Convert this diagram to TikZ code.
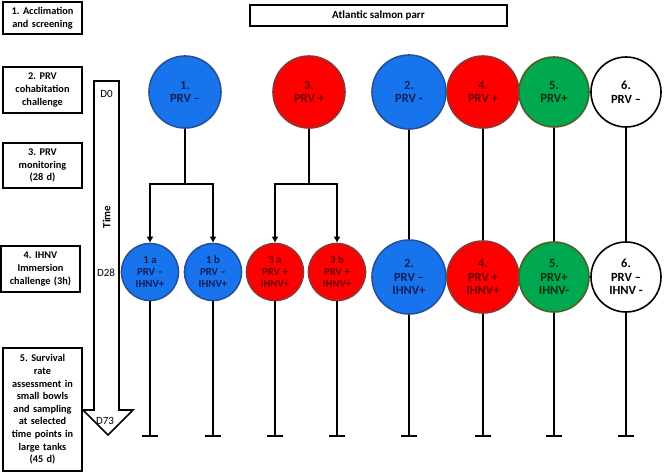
\documentclass[tikz,border=0pt]{standalone}
\usepackage{fontspec}
\setmainfont{Carlito}
\usetikzlibrary{arrows.meta}
\definecolor{pblue}{RGB}{24,116,236}
\definecolor{pblueline}{RGB}{40,80,150}
\definecolor{pbluetext}{RGB}{18,30,90}
\definecolor{pred}{RGB}{255,0,0}
\definecolor{predline}{RGB}{140,55,50}
\definecolor{predtext}{RGB}{105,0,0}
\definecolor{pgreen}{RGB}{0,168,80}
\definecolor{pgreenline}{RGB}{80,95,40}
\definecolor{pgreentext}{RGB}{10,45,20}
\frenchspacing
\tikzset{
  stagebox/.style={draw,line width=1.6pt,minimum width=79pt,text width=76pt,align=center,inner sep=1pt,font=\bfseries\fontsize{10.3}{12.6}\selectfont},
  tank/.style={circle,draw,line width=1.6pt,minimum size=72pt,inner sep=0pt,align=center,font=\bfseries\fontsize{12.5}{13.5}\selectfont},
  smalltank/.style={tank,minimum size=57pt,font=\bfseries\fontsize{10.8}{12}\selectfont},
  bluetank/.style={fill=pblue,draw=pblueline,text=pbluetext},
  redtank/.style={fill=pred,draw=predline,text=predtext},
  greentank/.style={fill=pgreen,draw=pgreenline,text=pgreentext}
}
\begin{document}
\begin{tikzpicture}[x=1pt,y=-1pt,line width=1.6pt]
  \useasboundingbox (0,0) rectangle (665,472);
  % stages
  \node[stagebox,minimum height=32pt](s1)at(42.5,18){1. Acclimation\\and screening};
  \node[stagebox,minimum height=46pt](s2)at(42.5,90){2. PRV\\cohabitation\\challenge};
  \node[stagebox,minimum height=45pt](s3)at(42.5,165.5){3. PRV\\monitoring\\(28 d)};
  \node[stagebox,minimum height=46pt](s4)at(40.5,269){4. IHNV\\Immersion\\challenge (3h)};
  \node[stagebox,minimum height=123pt](s5)at(42.5,409.5){5. Survival\\rate\\assessment in\\small bowls\\and sampling\\at selected\\time points in\\large tanks\\(45 d)};
  \node[draw,line width=2pt,minimum width=257pt,minimum height=21pt,inner sep=0pt,font=\bfseries\fontsize{11}{12}\selectfont](parr)at(378.5,15.5){Atlantic salmon parr};
  % time arrow
  \draw (94,81)--(119,81)--(119,410)--(133,410)--(108,435)--(83,410)--(94,410)--cycle;
  \node[font=\fontsize{11}{12}\selectfont](d0)at(106.5,94){D0};
  \node[rotate=90,font=\bfseries\fontsize{11}{12}\selectfont](time)at(106.5,217){Time};
  \node[font=\fontsize{11}{12}\selectfont](d28)at(106,273){D28};
  \node[font=\fontsize{11}{12}\selectfont](d73)at(105,421){D73};
  % PRV groups
  \node[tank,bluetank](c1)at(185,92){1.\\PRV --};
  \node[tank,redtank](c3)at(309,92){3.\\PRV +};
  \node[tank,bluetank,minimum size=74pt](c2)at(409,92){2.\\PRV -};
  \node[tank,redtank](c4)at(483,92){4.\\PRV +};
  \node[tank,greentank,minimum size=70pt](c5)at(554,92){5.\\PRV+};
  \node[tank,fill=white,minimum size=70pt](c6)at(626,92){6.\\PRV --};
  % IHNV groups
  \node[smalltank,bluetank](c1a)at(150,272){1 a\\PRV --\\IHNV+};
  \node[smalltank,bluetank](c1b)at(213,272){1 b\\PRV --\\IHNV+};
  \node[smalltank,redtank](c3a)at(275,272){3 a\\PRV +\\IHNV+};
  \node[smalltank,redtank](c3b)at(337,272){3 b\\PRV +\\IHNV+};
  \node[tank,bluetank,minimum size=74pt](c2i)at(409,277){2.\\PRV --\\IHNV+};
  \node[tank,redtank](c4i)at(483,277){4.\\PRV +\\IHNV+};
  \node[tank,greentank,minimum size=70pt](c5i)at(554,277){5.\\PRV+\\IHNV-};
  \node[tank,fill=white,minimum size=70pt](c6i)at(626,277){6.\\PRV --\\IHNV -};
  % split into tanks
  \draw(c1.south)--++(0,55)coordinate(j1);
  \draw[-{Latex[length=6pt,width=7pt]}](j1)-|(c1a.north);
  \draw[-{Latex[length=6pt,width=7pt]}](j1)-|(c1b.north);
  \draw(c3.south)--++(0,55)coordinate(j3);
  \draw[-{Latex[length=6pt,width=7pt]}](j3)-|(c3a.north);
  \draw[-{Latex[length=6pt,width=7pt]}](j3)-|(c3b.north);
  \foreach \n in {2,4,5,6} \draw(c\n.south)--(c\n i.north);
  % end of trial
  \foreach \n in {c1a,c1b,c3a,c3b,c2i,c4i,c5i,c6i} \draw[-{Bar[width=16pt]}](\n.south)--(\n.south|-0,437);
\end{tikzpicture}
\end{document}
